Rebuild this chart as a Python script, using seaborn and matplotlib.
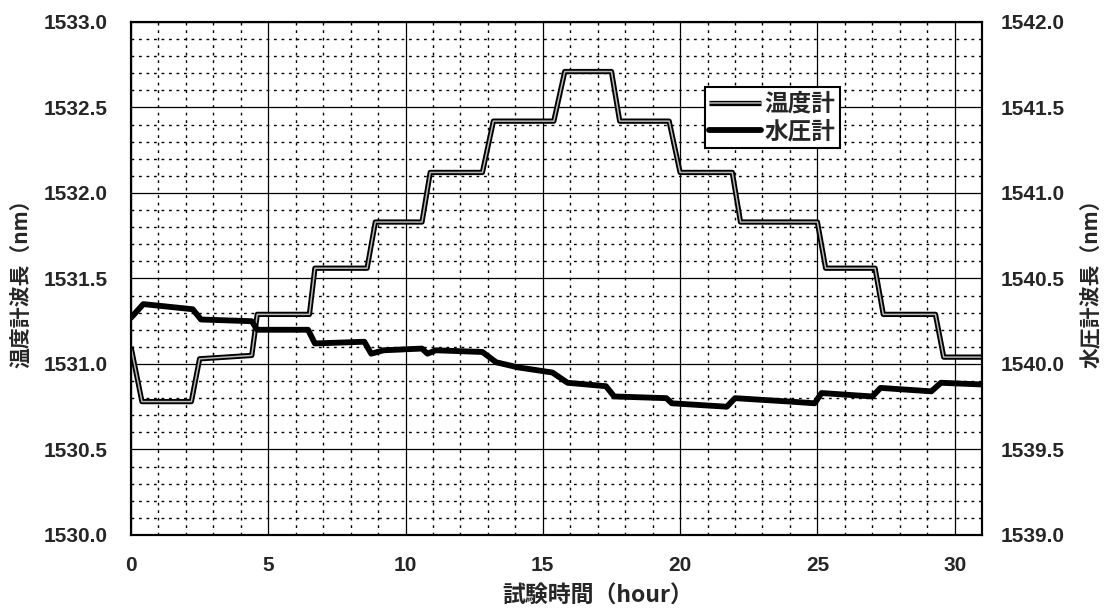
import matplotlib
matplotlib.use("Agg")
import matplotlib.pyplot as plt
import matplotlib.patheffects as pe
from matplotlib.ticker import MultipleLocator, FormatStrFormatter
import seaborn as sns
import pandas as pd

# 温度計 (left axis) — step levels over the test
temp_hours = [0, 0.4, 2.2, 2.5, 4.4, 4.6, 6.5, 6.7, 8.6, 8.9, 10.6, 10.9, 12.8, 13.2,
              15.4, 15.8, 17.5, 17.8, 19.6, 20.0, 21.9, 22.2, 25.0, 25.3, 27.1, 27.4,
              29.3, 29.6, 31.0]
temp_nm = [1531.10, 1530.78, 1530.78, 1531.03, 1531.05, 1531.29, 1531.29, 1531.56,
           1531.56, 1531.83, 1531.83, 1532.12, 1532.12, 1532.42, 1532.42, 1532.71,
           1532.71, 1532.42, 1532.42, 1532.12, 1532.12, 1531.83, 1531.83, 1531.56,
           1531.56, 1531.29, 1531.29, 1531.04, 1531.04]

# 水圧計 (right axis)
water_hours = [0, 0.45, 2.25, 2.55, 4.4, 4.6, 6.45, 6.7, 8.5, 8.75, 9.2, 10.6, 10.8,
               11.1, 12.8, 13.3, 14.1, 15.35, 15.9, 17.3, 17.6, 19.5, 19.7, 21.7, 22.0,
               24.0, 24.9, 25.15, 27.0, 27.3, 29.15, 29.5, 31.0]
water_nm = [1540.27, 1540.35, 1540.32, 1540.26, 1540.25, 1540.20, 1540.20, 1540.12,
            1540.13, 1540.06, 1540.08, 1540.09, 1540.06, 1540.08, 1540.07, 1540.01,
            1539.98, 1539.95, 1539.89, 1539.87, 1539.81, 1539.80, 1539.77, 1539.75,
            1539.80, 1539.78, 1539.77, 1539.83, 1539.81, 1539.86, 1539.84, 1539.89,
            1539.88]

series_names = ["温度計", "水圧計"]
x_label = "試験時間（hour）"
y_left_label = "温度計波長（nm）"
y_right_label = "水圧計波長（nm）"

sns.set_theme(style="white")
plt.rcParams["font.family"] = ["Liberation Sans", "Noto Sans CJK JP", "DejaVu Sans"]
plt.rcParams["font.weight"] = "bold"

cjk = ["Noto Sans CJK JP", "DejaVu Sans"]

fig = plt.figure(figsize=(11.06, 6.10), dpi=100)
ax = fig.add_axes([0.1184, 0.123, 0.7696, 0.841])
ax2 = ax.twinx()

temp_df = pd.DataFrame({"hour": temp_hours, "nm": temp_nm})
water_df = pd.DataFrame({"hour": water_hours, "nm": water_nm})

# double-stroke line: black outline with a grey core
sns.lineplot(data=temp_df, x="hour", y="nm", ax=ax, color="#b8b8b8", linewidth=1.1,
             solid_joinstyle="round", solid_capstyle="butt",
             path_effects=[pe.Stroke(linewidth=3.8, foreground="black"), pe.Normal()],
             label=series_names[0], legend=False)
sns.lineplot(data=water_df, x="hour", y="nm", ax=ax2, color="black", linewidth=4.2,
             solid_joinstyle="round", label=series_names[1], legend=False)

ax.set_xlim(0, 31)
ax.set_ylim(1530.0, 1533.0)
ax2.set_ylim(1539.0, 1542.0)

ax.xaxis.set_major_locator(MultipleLocator(5))
ax.xaxis.set_minor_locator(MultipleLocator(1))
ax.yaxis.set_major_locator(MultipleLocator(0.5))
ax.yaxis.set_minor_locator(MultipleLocator(0.1))
ax2.yaxis.set_major_locator(MultipleLocator(0.5))
ax.yaxis.set_major_formatter(FormatStrFormatter("%.1f"))
ax2.yaxis.set_major_formatter(FormatStrFormatter("%.1f"))

ax.grid(which="major", color="black", linewidth=0.9, linestyle="-")
ax.grid(which="minor", color="black", linewidth=1.0, linestyle=(0, (2.0, 3.4)))
ax.set_axisbelow(True)

for a in (ax, ax2):
    a.tick_params(axis="both", which="both", length=0, labelsize=15)
    for s in a.spines.values():
        s.set_color("black")
        s.set_linewidth(1.5)
ax.tick_params(axis="y", pad=17)
ax.tick_params(axis="x", pad=15)
ax2.tick_params(axis="y", pad=13)
for lbl in ax.get_xticklabels() + ax.get_yticklabels() + ax2.get_yticklabels():
    lbl.set_fontweight("bold")

ax.set_xlabel(x_label, family=cjk, fontsize=16.5, fontweight="bold")
ax.xaxis.set_label_coords(0.548, -0.096)
ax.set_ylabel(y_left_label, family=cjk, fontsize=15, fontweight="bold", labelpad=8)
ax2.set_ylabel(y_right_label, family=cjk, fontsize=15, fontweight="bold", labelpad=12)

handles = ax.get_lines()[:1] + ax2.get_lines()[:1]
leg = ax2.legend(handles, series_names, loc="upper left", bbox_to_anchor=(0.674, 0.873),
                 frameon=True, fancybox=False, framealpha=1, edgecolor="black",
                 prop={"family": cjk, "size": 17, "weight": "bold"},
                 handlelength=2.2, handletextpad=0.15, borderpad=0.2, labelspacing=0.15,
                 borderaxespad=0)
leg.get_frame().set_linewidth(1.5)

fig.savefig("out.png", dpi=100)
